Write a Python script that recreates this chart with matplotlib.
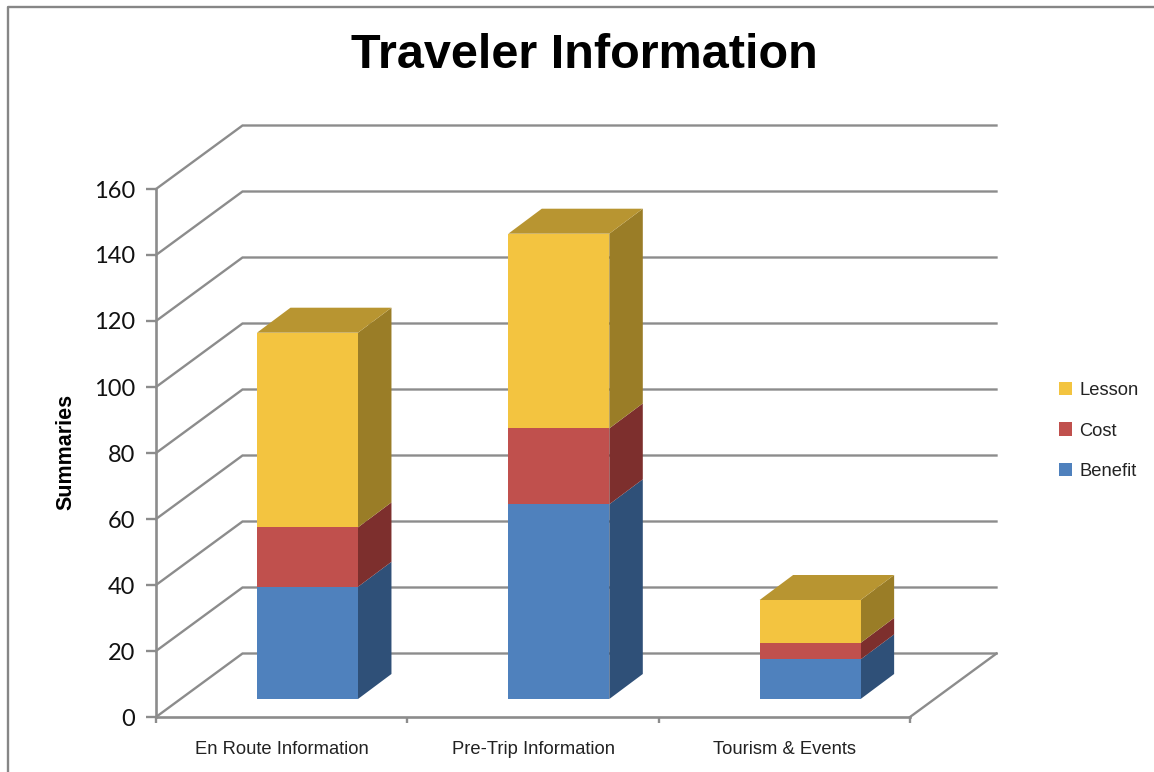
import numpy as np
import matplotlib
matplotlib.use('Agg')
import matplotlib.pyplot as plt
from matplotlib.lines import Line2D

categories = ['En Route Information', 'Pre-Trip Information', 'Tourism & Events']
benefit = [34, 59, 12]
cost = [18, 23, 5]
lesson = [59, 59, 13]
yticks = [0, 20, 40, 60, 80, 100, 120, 140, 160]

W, H = 1154, 772
L, R, B, T = 156, 910, 717, 189
grid_c = '#8c8c8c'

# fake 3d offsets, in data units (x = category, y = summaries)
px_x = 3 / (R - L)
px_y = 160 / (B - T)
back_dx, back_dy = 86.5 * px_x, 63.5 * px_y
bar_w = 101 * px_x
bar_x = 25.8 * px_x
floor = 18 * px_y
dep_x, dep_y = 33.5 * px_x, 25 * px_y

plt.rcParams['font.family'] = ['Liberation Sans', 'DejaVu Sans']
fig = plt.figure(figsize=(W / 100, H / 100), dpi=100)
ax = fig.add_axes([L / W, 1 - B / H, (R - L) / W, (B - T) / H])
ax.set_xlim(0, 3)
ax.set_ylim(0, 160)
ax.patch.set_alpha(0)

# chart frame
fig.add_artist(Line2D([8 / W, 8 / W, 1], [0, 1 - 7 / H, 1 - 7 / H], color='#868686', lw=1.7))

# walls
for v in yticks:
    ax.plot([0, back_dx, 3 + back_dx], [v, v + back_dy, v + back_dy], color=grid_c, lw=1.7,
            clip_on=False, zorder=1, solid_joinstyle='miter')
ax.plot([3, 3 + back_dx], [0, back_dy], color=grid_c, lw=1.7, clip_on=False, zorder=1)

series = [('Benefit', benefit, '#4f81bd', '#2f5078', '#3d6491'),
          ('Cost', cost, '#c0504d', '#7d2f2d', '#96403d'),
          ('Lesson', lesson, '#f3c440', '#9a7d27', '#b89531')]

handles = []
bottom = np.zeros(3) + floor
for name, vals, front, side, top in series:
    vals = np.array(vals, dtype=float)
    xs = np.arange(3) + 0.5 + bar_x
    for i in range(3):
        x1 = xs[i] + bar_w / 2
        y0, y1 = bottom[i], bottom[i] + vals[i]
        ax.fill([x1, x1 + dep_x, x1 + dep_x, x1], [y0, y0 + dep_y, y1 + dep_y, y1],
                color=side, lw=0, zorder=3, clip_on=False)
    c = ax.bar(xs, vals, bar_w, bottom=bottom, color=front, lw=0, zorder=4, label=name, clip_on=False)
    handles.append(c)
    bottom = bottom + vals
    if name == 'Lesson':
        for i in range(3):
            x0, x1 = xs[i] - bar_w / 2, xs[i] + bar_w / 2
            ax.fill([x0, x1, x1 + dep_x, x0 + dep_x],
                    [bottom[i], bottom[i], bottom[i] + dep_y, bottom[i] + dep_y],
                    color=top, lw=0, zorder=3, clip_on=False)

for s in ['top', 'right']:
    ax.spines[s].set_visible(False)
for s in ['left', 'bottom']:
    ax.spines[s].set_color(grid_c)
    ax.spines[s].set_linewidth(1.9)
    ax.spines[s].set_zorder(2)

ax.set_yticks(yticks)
ax.set_yticklabels([str(v) for v in yticks], family=['Lato', 'DejaVu Sans'], fontsize=17, color='#111111')
ax.set_xticks([0, 1, 2, 3])
ax.set_xticklabels([])
ax.set_xticks([0.5, 1.5, 2.5], categories, minor=True, fontsize=13.2, color='#222222')
ax.tick_params(axis='y', length=7, width=1.7, color=grid_c, pad=8)
ax.tick_params(axis='x', which='major', length=4, width=1.7, color=grid_c)
ax.tick_params(axis='x', which='minor', length=0, pad=17)

fig.text(584.5 / W, 1 - 56 / H, 'Traveler Information', ha='center', va='center',
         fontsize=35, fontweight='bold', color='black')
fig.text(66 / W, 1 - 452 / H, 'Summaries', rotation=90, ha='center', va='center',
         fontsize=15.5, fontweight='bold', color='black')

leg = fig.legend(handles[::-1], ['Lesson', 'Cost', 'Benefit'], loc='center left',
                 bbox_to_anchor=(1042 / W, 1 - 431 / H), frameon=False, fontsize=13.2,
                 handlelength=0.75, handleheight=0.75, handletextpad=0.4, labelspacing=1.28,
                 borderpad=0.4, labelcolor='#222222')

fig.savefig('out.png', dpi=100)
